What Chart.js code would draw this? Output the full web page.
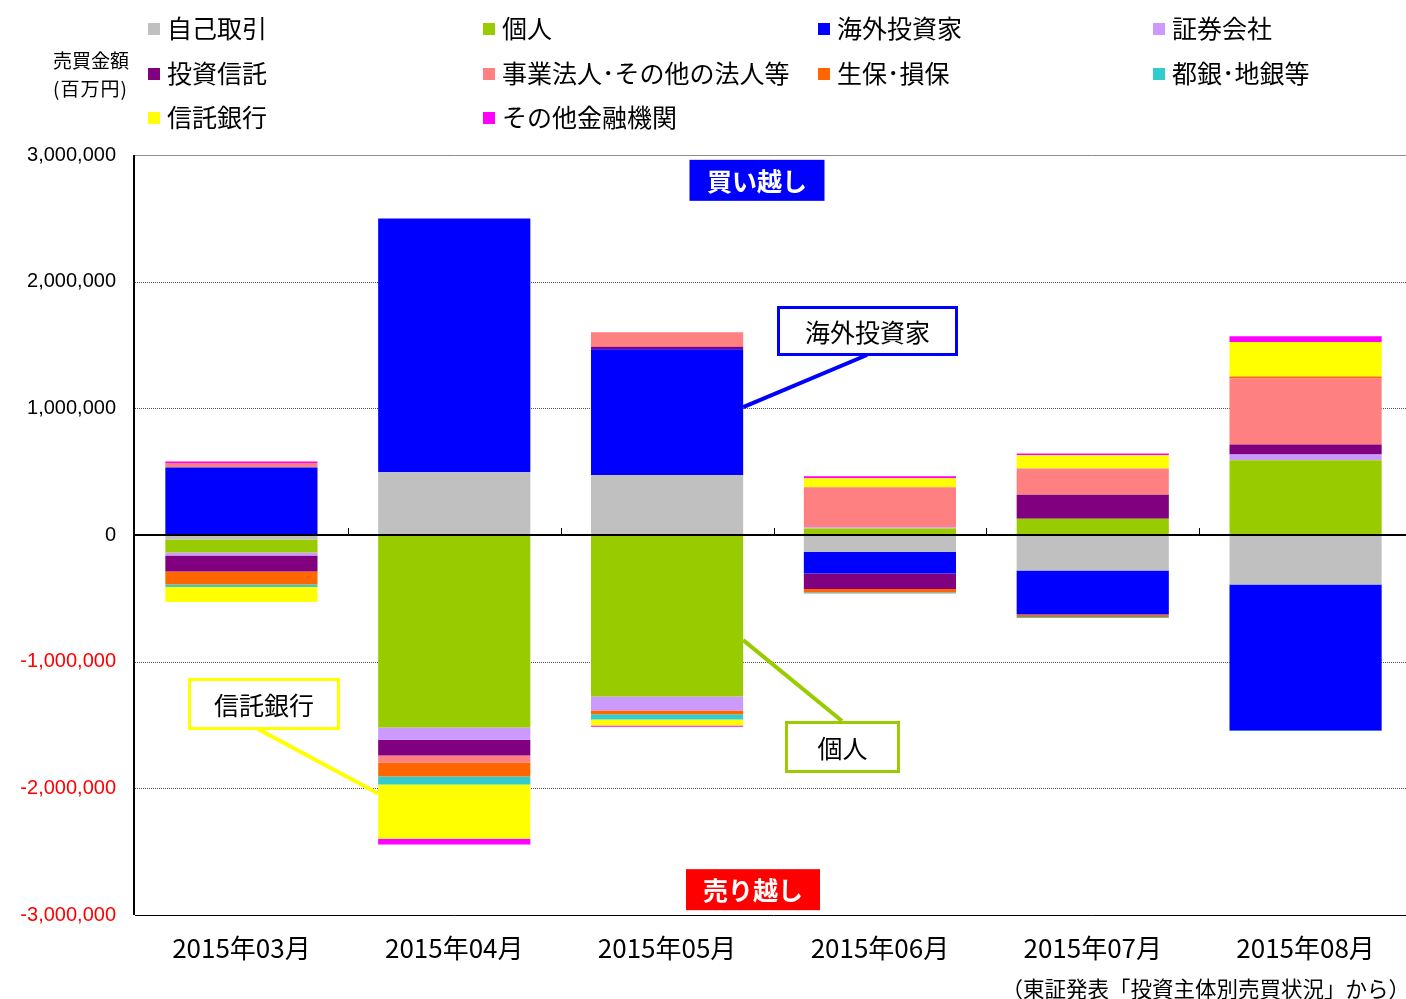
<!DOCTYPE html>
<html>
<head>
<meta charset="utf-8">
<script src="https://cdn.jsdelivr.net/npm/chart.js@4.4.1/dist/chart.umd.min.js"></script>
<style>
  body { margin: 0; background: #fff; }
  #wrap { position: relative; width: 1406px; height: 999px; overflow: hidden; }
  #c { position: absolute; left: 0; top: 0; }
  #legend div { position: absolute; font-family: "Noto Sans CJK JP", sans-serif; font-size: 25px; color: #000; white-space: nowrap; line-height: 30px; }
  #legend span { display: inline-block; width: 12px; height: 12px; margin-right: 7px; vertical-align: 3px; }
  .note { position: absolute; font-family: "Noto Sans CJK JP", sans-serif; color: #000; white-space: nowrap; }
</style>
</head>
<body>
<div id="wrap">
  <canvas id="c" width="1412" height="999"></canvas>
  <div id="legend"></div>
  <div class="note" style="left:53px; top:46px; font-size:19px; line-height:28px;">売買金額<br><span style="letter-spacing:1px">(百万円)</span></div>
  <div class="note" style="right:-4px; top:972px; font-size:21.5px; line-height:32px;">（東証発表「投資主体別売買状況」から）</div>
</div>
<script>
// months on the x axis
const months = ['2015年03月', '2015年04月', '2015年05月', '2015年06月', '2015年07月', '2015年08月'];

// net buy (+) / sell (-) per investor type, millions of yen
const jikoTorihiki   = [-35000, 496000, 472000, -135000, -280000, -391000];
const kojin          = [-103000, -1520000, -1275000, 51000, 128000, 591000];
const kaigai         = [533000, 2003000, 995000, -168000, -347000, -1153000];
const shoken         = [-24000, -97000, -111000, 10000, -3000, 45000];
const toshin         = [-126000, -124000, 20000, -124000, 189000, 79000];
const jigyoHojin     = [36000, -55000, 114000, 316000, 208000, 521000];
const seiho          = [-103000, -110000, -29000, -26000, -18000, 16000];
const toginChigin    = [-20000, -63000, -42000, -8000, -8000, -3000];
const shintakuGinko  = [-118000, -429000, -47000, 71000, 105000, 271000];
const sonotaKinyu    = [12000, -45000, -10000, 16000, 13000, 47000];

// y axis ticks
const yTicks = [3000000, 2000000, 1000000, 0, -1000000, -2000000, -3000000];

// legend order = stacking order
const series = [
  { label: '自己取引', data: jikoTorihiki, color: '#c0c0c0' },
  { label: '個人', data: kojin, color: '#99cc00' },
  { label: '海外投資家', data: kaigai, color: '#0000ff' },
  { label: '証券会社', data: shoken, color: '#cc99ff' },
  { label: '投資信託', data: toshin, color: '#800080' },
  { label: '事業法人･その他の法人等', data: jigyoHojin, color: '#ff8080' },
  { label: '生保･損保', data: seiho, color: '#ff6600' },
  { label: '都銀･地銀等', data: toginChigin, color: '#33cccc' },
  { label: '信託銀行', data: shintakuGinko, color: '#ffff00' },
  { label: 'その他金融機関', data: sonotaKinyu, color: '#ff00ff' }
];

// html legend, 4 columns x 3 rows
const legendBox = document.getElementById('legend');
const colX = [148, 483, 818, 1153];
const rowY = [12, 57, 101];
series.forEach((s, i) => {
  const d = document.createElement('div');
  d.style.left = colX[i % 4] + 'px';
  d.style.top = rowY[Math.floor(i / 4)] + 'px';
  d.innerHTML = '<span style="background:' + s.color + '"></span>' + s.label;
  legendBox.appendChild(d);
});

// grid lines, zero line and the little category ticks
const gridPlugin = {
  id: 'grid',
  beforeDatasetsDraw(chart) {
    const { ctx, chartArea: a, scales: { y } } = chart;
    ctx.save();
    yTicks.forEach(v => {
      const py = Math.round(y.getPixelForValue(v)) + 0.5;
      ctx.beginPath();
      if (v === 3000000) { ctx.strokeStyle = '#8c8c8c'; ctx.setLineDash([]); }
      else if (v === -3000000) { ctx.strokeStyle = '#000'; ctx.setLineDash([]); }
      else { ctx.strokeStyle = '#555'; ctx.setLineDash([1, 1]); }
      ctx.lineWidth = 1;
      ctx.moveTo(a.left, py);
      ctx.lineTo(a.right, py);
      ctx.stroke();
    });
    ctx.restore();
  },
  afterDatasetsDraw(chart) {
    const { ctx, chartArea: a, scales: { y } } = chart;
    const y0 = y.getPixelForValue(0);
    ctx.save();
    ctx.strokeStyle = '#000';
    ctx.lineWidth = 2;
    ctx.beginPath();
    ctx.moveTo(a.left, y0);
    ctx.lineTo(a.right, y0);
    ctx.stroke();
    ctx.lineWidth = 1;
    const step = (a.right - a.left) / months.length;
    for (let i = 1; i < months.length; i++) {
      const px = Math.round(a.left + step * i) + 0.5;
      ctx.beginPath();
      ctx.moveTo(px, y0 - 7);
      ctx.lineTo(px, y0);
      ctx.stroke();
    }
    // left axis
    ctx.lineWidth = 2;
    ctx.beginPath();
    ctx.moveTo(a.left - 1, a.top);
    ctx.lineTo(a.left - 1, a.bottom);
    ctx.stroke();
    ctx.restore();
  }
};

// callouts and the 買い越し / 売り越し tags
const notePlugin = {
  id: 'notes',
  afterDraw(chart) {
    const { ctx, scales: { y } } = chart;
    const barOf = (ds, i) => chart.getDatasetMeta(ds).data[i];
    ctx.save();
    ctx.textAlign = 'center';
    ctx.textBaseline = 'middle';

    const tag = (cx, cy, w, h, bg, txt) => {
      ctx.fillStyle = bg;
      ctx.fillRect(cx - w / 2, cy - h / 2, w, h);
      ctx.fillStyle = '#fff';
      ctx.font = 'bold 25px "Noto Sans CJK JP"';
      ctx.fillText(txt, cx, cy + 1);
    };
    tag(757, y.getPixelForValue(2800000), 135, 41, '#0000ff', '買い越し');
    tag(753, y.getPixelForValue(-2800000), 134, 41, '#ff0000', '売り越し');

    const callout = (bx, by, w, h, color, txt, lx1, ly1, lx2, ly2) => {
      ctx.strokeStyle = color;
      ctx.lineWidth = 4;
      ctx.beginPath();
      ctx.moveTo(lx1, ly1);
      ctx.lineTo(lx2, ly2);
      ctx.stroke();
      ctx.fillStyle = '#fff';
      ctx.fillRect(bx, by, w, h);
      ctx.lineWidth = 3;
      ctx.strokeRect(bx + 1.5, by + 1.5, w - 3, h - 3);
      ctx.fillStyle = '#000';
      ctx.font = '25px "Noto Sans CJK JP"';
      ctx.fillText(txt, bx + w / 2, by + h / 2 + 1);
    };
    const may = barOf(2, 2);
    const mayRight = may.x + may.width / 2;
    callout(777, 306, 181, 50, '#0000ff', '海外投資家', 867, 355, mayRight, y.getPixelForValue(1010000));
    const apr = barOf(8, 1);
    const aprLeft = apr.x - apr.width / 2;
    callout(188, 678, 152, 52, '#ffff00', '信託銀行', 258, 729, aprLeft, y.getPixelForValue(-2040000));
    callout(785, 721, 115, 52, '#99cc00', '個人', 842, 721, mayRight, y.getPixelForValue(-830000));
    ctx.restore();
  }
};

new Chart(document.getElementById('c').getContext('2d'), {
  type: 'bar',
  data: {
    labels: months,
    datasets: series.map(s => ({
      label: s.label,
      data: s.data,
      backgroundColor: s.color,
      borderWidth: 0,
      barPercentage: 0.715,
      categoryPercentage: 1
    }))
  },
  options: {
    responsive: false,
    animation: false,
    layout: { padding: { top: 155, right: 0, left: 0, bottom: 0 } },
    plugins: { legend: { display: false }, tooltip: { enabled: false } },
    scales: {
      x: {
        stacked: true,
        grid: { display: false, drawTicks: false },
        border: { display: false },
        ticks: { color: '#000', font: { family: '"Noto Sans CJK JP"', size: 26 }, padding: 18 },
        afterFit(scale) { scale.height = 84; }
      },
      y: {
        stacked: true,
        min: -3000000,
        max: 3000000,
        afterBuildTicks(scale) { scale.ticks = yTicks.map(v => ({ value: v })); },
        grid: { display: false, drawTicks: false },
        border: { display: false },
        ticks: {
          padding: 19,
          font: { family: '"Liberation Sans"', size: 20 },
          color: c => (c.tick && c.tick.value < 0 ? '#ff0000' : '#000'),
          callback: v => v.toLocaleString('en-US')
        },
        afterFit(scale) { scale.width = 135; }
      }
    }
  },
  plugins: [gridPlugin, notePlugin]
});
</script>
</body>
</html>
